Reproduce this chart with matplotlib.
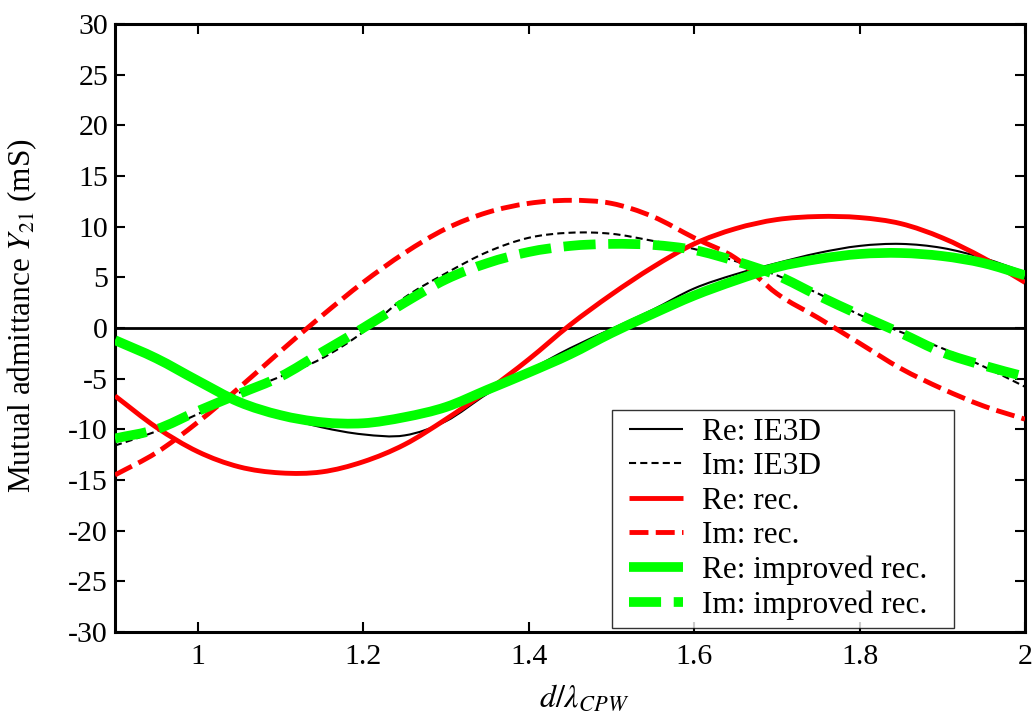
import matplotlib
matplotlib.use("Agg")
import matplotlib.pyplot as plt
from matplotlib.path import Path
from matplotlib.patches import PathPatch
from matplotlib.lines import Line2D
from matplotlib.legend_handler import HandlerLine2D
from matplotlib.offsetbox import DrawingArea

plt.rcParams['font.family'] = ['Liberation Serif', 'DejaVu Serif']
plt.rcParams['mathtext.fontset'] = 'stix'
plt.rcParams['axes.unicode_minus'] = False

x = [0.9, 0.95, 1.0, 1.05, 1.1, 1.15, 1.2, 1.25, 1.3, 1.35, 1.4, 1.45,
     1.5, 1.55, 1.6, 1.65, 1.7, 1.75, 1.8, 1.85, 1.9, 1.95, 2.0]

re_ie3d = [-1.2, -3.0, -5.2, -7.3, -8.7, -9.8, -10.5, -10.6, -9.2, -6.5, -4.2, -2.0,
           -0.1, 1.8, 3.9, 5.3, 6.4, 7.4, 8.1, 8.3, 7.9, 6.9, 5.5]
im_ie3d = [-11.6, -10.2, -8.5, -6.4, -4.8, -3.0, -0.4, 3.0, 5.4, 7.5, 8.9, 9.4,
           9.3, 8.6, 7.8, 6.6, 5.2, 3.4, 1.3, -0.4, -2.0, -3.8, -5.8]
re_rec = [-6.7, -9.8, -12.2, -13.7, -14.3, -14.2, -13.2, -11.5, -9.0, -6.2, -3.1, 0.3,
          3.3, 6.0, 8.3, 9.8, 10.7, 11.0, 10.9, 10.3, 8.9, 6.9, 4.5]
im_rec = [-14.5, -12.3, -9.3, -5.9, -2.3, 1.2, 4.5, 7.4, 9.8, 11.4, 12.3, 12.6,
          12.3, 11.0, 8.9, 6.9, 3.4, 1.0, -1.5, -4.0, -6.0, -7.7, -9.0]
re_impr = [-1.2, -3.0, -5.2, -7.3, -8.6, -9.3, -9.4, -8.8, -7.8, -6.1, -4.4, -2.6,
           -0.5, 1.4, 3.2, 4.7, 6.0, 6.8, 7.3, 7.4, 7.1, 6.4, 5.2]
im_impr = [-10.9, -10.0, -8.2, -6.5, -4.8, -2.4, 0.0, 2.5, 4.8, 6.4, 7.5, 8.1,
           8.3, 8.2, 7.7, 6.6, 5.2, 3.2, 1.3, -0.5, -2.4, -3.7, -4.8]

labels = ['Re: IE3D', 'Im: IE3D', 'Re: rec.', 'Im: rec.',
          'Re: improved rec.', 'Im: improved rec.']

xticks = [1, 1.2, 1.4, 1.6, 1.8, 2]
xticklabels = ['1', '1.2', '1.4', '1.6', '1.8', '2']
yticks = list(range(-30, 31, 5))


def smooth_path(xs, ys):
    """Bezier path through the data points (Catmull-Rom tangents)."""
    n = len(xs)
    tx, ty = [], []
    for i in range(n):
        a = max(i - 1, 0)
        b = min(i + 1, n - 1)
        tx.append((xs[b] - xs[a]) / (b - a))
        ty.append((ys[b] - ys[a]) / (b - a))
    verts = [(xs[0], ys[0])]
    codes = [Path.MOVETO]
    for i in range(n - 1):
        verts.append((xs[i] + tx[i] / 3, ys[i] + ty[i] / 3))
        verts.append((xs[i + 1] - tx[i + 1] / 3, ys[i + 1] - ty[i + 1] / 3))
        verts.append((xs[i + 1], ys[i + 1]))
        codes += [Path.CURVE4] * 3
    return Path(verts, codes)


fig = plt.figure(figsize=(10.34, 7.15), dpi=100)
ax = fig.add_axes([115 / 1034, (715 - 632) / 715, 910 / 1034, 608 / 715])

ax.axhline(0, color='black', lw=2.0, zorder=1)

styles = [
    (re_ie3d, 'black', 1.5, '-', 2),
    (im_ie3d, 'black', 1.5, (0, (3.4, 2.0)), 2),
    (re_rec, '#ff0000', 3.5, '-', 3),
    (im_rec, '#ff0000', 3.5, (0, (3.9, 1.5)), 3),
    (re_impr, '#00ff00', 7.0, '-', 4),
    (im_impr, '#00ff00', 7.0, (0, (3.3, 1.3)), 4),
]
handles = []
for (ys, col, lw, ls, z), lab in zip(styles, labels):
    patch = PathPatch(smooth_path(x, ys), facecolor='none', edgecolor=col,
                      lw=lw, linestyle=ls, zorder=z, capstyle='butt',
                      joinstyle='round')
    ax.add_patch(patch)
    handles.append(Line2D([], [], color=col, lw=lw, ls=ls, label=lab,
                          dash_capstyle='butt', solid_capstyle='butt'))

ax.set_xlim(0.9, 2.0)
ax.set_ylim(-30, 30)
ax.set_xticks(xticks)
ax.set_xticklabels(xticklabels)
ax.set_yticks(yticks)
ax.tick_params(axis='both', direction='in', length=7, width=1.5, labelsize=21.5,
               top=True, right=True)
ax.tick_params(axis='x', pad=9)
ax.tick_params(axis='y', pad=5)
for s in ax.spines.values():
    s.set_linewidth(2.2)

ax.set_xlabel(r'$d/\lambda_{CPW}$', fontsize=23)
ax.xaxis.set_label_coords(0.516, -0.085)
ax.set_ylabel(r'Mutual admittance $Y_{21}$ (mS)', fontsize=22.5)
ax.yaxis.set_label_coords(-0.083, 0.52)

hmap = {h: HandlerLine2D(xpad=0.3) for h in handles}
leg = ax.legend(handles=handles, handler_map=hmap, loc='lower right',
                bbox_to_anchor=(0.922, 0.0066), borderaxespad=0, fontsize=22.5,
                frameon=True, fancybox=False, edgecolor='black',
                handlelength=2.05, handletextpad=0.58, borderpad=0.25,
                labelspacing=0.175)
leg.get_frame().set_linewidth(1.0)
# extra right-hand padding inside the legend box (as in the original)
try:
    hb = leg._legend_handle_box
    hb.sep = 0
    hb._children.append(DrawingArea(14, 1))
except Exception:
    pass

fig.savefig('out.png', dpi=100)
